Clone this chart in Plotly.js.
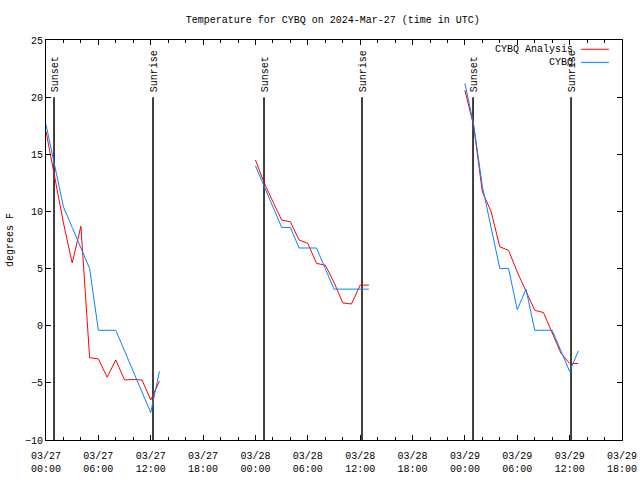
<!DOCTYPE html>
<html><head><meta charset="utf-8">
<script src="https://cdn.plot.ly/plotly-3.0.1.min.js"></script>
<style>html,body{margin:0;padding:0;background:#fff}#chart{width:640px;height:480px}</style>
</head><body><div id="chart"></div>
<script>
// hours since 2024-03-27 00:00 UTC
const seriesNames = ["CYBQ Analysis", "CYBQ"];
const seriesColors = ["#ff0000", "#0a80ff"];

const hoursSeg1 = [0,1,2,3,4,5,6,7,8,9,10,11,12,13];
const hoursSeg2 = [24,25,26,27,28,29,30,31,32,33,34,35,36,37];
const hoursSeg3 = [48,49,50,51,52,53,54,55,56,57,58,59,60,61];

const analysisSeg1 = [17.0,12.9,9.0,5.5,8.7,-2.8,-2.9,-4.5,-3.0,-4.75,-4.7,-4.75,-6.5,-4.85];
const analysisSeg2 = [14.5,12.5,10.85,9.25,9.1,7.5,7.2,5.45,5.3,3.8,2.0,1.9,3.55,3.55];
const analysisSeg3 = [20.6,17.5,11.7,10.0,6.9,6.6,4.7,3.0,1.35,1.15,-0.6,-2.4,-3.3,-3.3];

const obsSeg1 = [17.6,14.0,10.4,8.6,6.8,5.0,-0.4,-0.4,-0.4,-2.2,-4.0,-5.8,-7.6,-4.0];
const obsSeg2 = [14.0,12.2,10.4,8.6,8.6,6.8,6.8,6.8,5.0,3.2,3.2,3.2,3.2,3.2];
const obsSeg3 = [21.2,17.6,12.2,8.6,5.0,5.0,1.4,3.2,-0.4,-0.4,-0.4,-2.2,-4.0,-2.2];

const eventHours = [0.92, 12.26, 24.98, 36.21, 48.93, 60.16];
const eventLabels = ["Sunset","Sunrise","Sunset","Sunrise","Sunset","Sunrise"];
const eventLineTop = 20;

const xTickVals = [0,6,12,18,24,30,36,42,48,54,60,66];
const xTickText = ["03/27<br>00:00","03/27<br>06:00","03/27<br>12:00","03/27<br>18:00",
                   "03/28<br>00:00","03/28<br>06:00","03/28<br>12:00","03/28<br>18:00",
                   "03/29<br>00:00","03/29<br>06:00","03/29<br>12:00","03/29<br>18:00"];

const titleText = "Temperature for CYBQ on 2024-Mar-27 (time in UTC)";
const yTitle = "degrees F";

function joinSegs(xs, ys) {
  const X = [], Y = [];
  xs.forEach((xa, i) => {
    if (i > 0) { X.push(null); Y.push(null); }
    X.push(...xa); Y.push(...ys[i]);
  });
  return {X, Y};
}
const hrs = [hoursSeg1, hoursSeg2, hoursSeg3];
const a = joinSegs(hrs, [analysisSeg1, analysisSeg2, analysisSeg3]);
const o = joinSegs(hrs, [obsSeg1, obsSeg2, obsSeg3]);

const font = {family: "Liberation Mono, DejaVu Sans Mono, monospace", size: 10, color: "#000"};

const traces = [
  {x: a.X, y: a.Y, name: seriesNames[0], type: "scatter", mode: "lines",
   line: {color: seriesColors[0], width: 1}, connectgaps: false, showlegend: false},
  {x: o.X, y: o.Y, name: seriesNames[1], type: "scatter", mode: "lines",
   line: {color: seriesColors[1], width: 1}, connectgaps: false, showlegend: false}
];

const shapes = eventHours.map(h => ({
  type: "line", xref: "x", yref: "y", x0: h, x1: h, y0: -10, y1: eventLineTop,
  line: {color: "#000", width: 1.5}, layer: "below"
}));
const annotations = eventHours.map((h, i) => ({
  x: h, y: eventLineTop, xref: "x", yref: "y", text: eventLabels[i],
  textangle: -90, showarrow: false, xanchor: "center", yanchor: "bottom",
  yshift: 3, xshift: 1, font: font
}));

// legend (gnuplot style: text left, sample right)
const legY = [0.9768, 0.944];
seriesNames.forEach((n, i) => {
  annotations.push({x: 0.9184, y: legY[i], xref: "paper", yref: "paper", text: n,
    showarrow: false, xanchor: "right", yanchor: "middle", font: font});
  shapes.push({type: "line", xref: "paper", yref: "paper", x0: 0.9288, x1: 0.9774,
    y0: legY[i], y1: legY[i], line: {color: seriesColors[i], width: 1}});
});

const layout = {
  width: 640, height: 480,
  margin: {l: 46, r: 18, t: 40, b: 40},
  paper_bgcolor: "#fff", plot_bgcolor: "#fff",
  font: font,
  title: {text: titleText, font: font, x: 0.52, xanchor: "center", y: 0.96, yanchor: "middle"},
  showlegend: false,
  xaxis: {
    range: [0, 66], tickmode: "array", tickvals: xTickVals, ticktext: xTickText,
    ticks: "inside", ticklen: 5, tickcolor: "#000", showline: true, linecolor: "#000",
    linewidth: 1, mirror: "ticks", showgrid: false, zeroline: false, tickfont: font,
    ticklabelstandoff: 6,
    minor: {tickmode: "linear", tick0: 0, dtick: 2, ticks: "inside", ticklen: 3, tickcolor: "#000", showgrid: false}
  },
  yaxis: {
    range: [-10, 25], tickmode: "linear", tick0: -10, dtick: 5,
    ticks: "inside", ticklen: 5, tickcolor: "#000", showline: true, linecolor: "#000",
    linewidth: 1, mirror: "ticks", showgrid: false, zeroline: false, tickfont: font,
    title: {text: yTitle, font: font, standoff: 9}
  },
  shapes: shapes,
  annotations: annotations
};

Plotly.newPlot("chart", traces, layout, {staticPlot: true, displayModeBar: false});
</script>
</body></html>
